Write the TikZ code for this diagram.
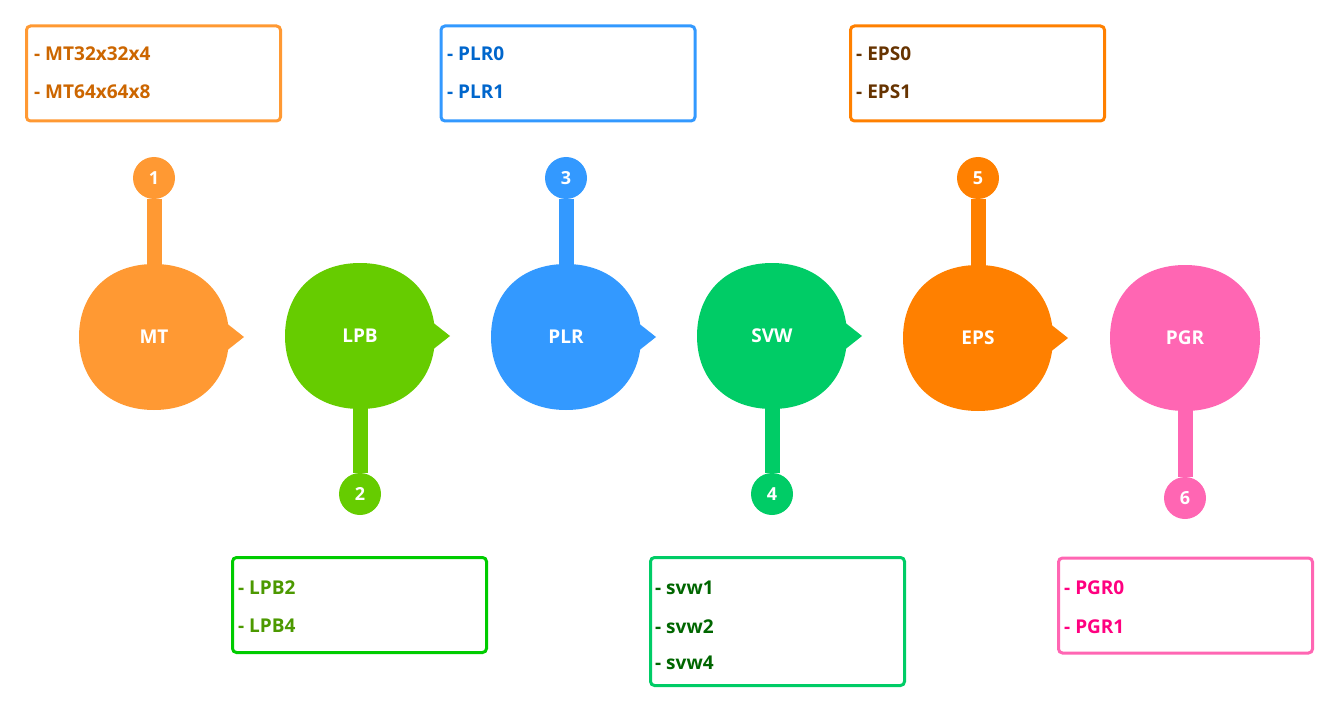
\documentclass[tikz,border=0pt]{standalone}
\usepackage{fontspec}
\setmainfont{Open Sans}
\definecolor{mtcol}{HTML}{FF9933}
\definecolor{mttext}{HTML}{CC6600}
\definecolor{lpbcol}{HTML}{66CC00}
\definecolor{lpbline}{HTML}{00CC00}
\definecolor{lpbtext}{HTML}{4C9900}
\definecolor{plrcol}{HTML}{3399FF}
\definecolor{plrtext}{HTML}{0066CC}
\definecolor{svwcol}{HTML}{00CC66}
\definecolor{svwtext}{HTML}{006600}
\definecolor{epscol}{HTML}{FF8000}
\definecolor{epstext}{HTML}{663300}
\definecolor{pgrcol}{HTML}{FF66B3}
\definecolor{pgrtext}{HTML}{FF0080}
\tikzset{
	blob/.pic={
		\path[pic actions] (75,0) .. controls (75,44) and (45,73) .. (0,73) .. controls (-45,73) and (-75,44) .. (-75,0) .. controls (-75,-44) and (-45,-73) .. (0,-73) .. controls (45,-73) and (75,-44) .. (75,0) -- cycle;
	},
	blobtip/.pic={
		\path[pic actions] (66,-19) -- (90,0) -- (66,19) -- cycle;
	},
	label/.style={text=white, font=\bfseries\fontsize{19}{21}\selectfont, inner sep=1pt},
	num/.style={circle, minimum size=42, inner sep=0pt, text=white, font=\bfseries\fontsize{18}{20}\selectfont},
	stem/.style={line width=15},
	listbox/.style={line width=3, rounded corners=4, fill=white, minimum width=254, inner sep=0pt},
	item/.style={anchor=base west, inner sep=0pt, font=\bfseries\fontsize{19}{21}\selectfont}
}

\begin{document}
\begin{tikzpicture}[x=1pt, y=-1pt]
		\useasboundingbox (0,0) rectangle (1340,711);
		\pic[fill=mtcol] at (154,337) {blob};
		\pic[fill=mtcol] at (154,337) {blobtip};
		\pic[fill=lpbcol] at (360,336) {blob};
		\pic[fill=lpbcol] at (360,336) {blobtip};
		\pic[fill=plrcol] at (566,337) {blob};
		\pic[fill=plrcol] at (566,337) {blobtip};
		\pic[fill=svwcol] at (772,336) {blob};
		\pic[fill=svwcol] at (772,336) {blobtip};
		\pic[fill=epscol] at (978,338) {blob};
		\pic[fill=epscol] at (978,338) {blobtip};
		\pic[fill=pgrcol] at (1185,338) {blob};
		\node[label] (mt) at (154,337) {MT};
		\node[label] (lpb) at (360,336) {LPB};
		\node[label] (plr) at (566,337) {PLR};
		\node[label] (svw) at (772,336) {SVW};
		\node[label] (eps) at (978,338) {EPS};
		\node[label] (pgr) at (1185,338) {PGR};
		\node[num, fill=mtcol] (n1) at (154,178) {1};
		\node[num, fill=lpbcol] (n2) at (360,494) {2};
		\node[num, fill=plrcol] (n3) at (566,178) {3};
		\node[num, fill=svwcol] (n4) at (772,494) {4};
		\node[num, fill=epscol] (n5) at (978,178) {5};
		\node[num, fill=pgrcol] (n6) at (1185,498) {6};
		\draw[stem, draw=mtcol] (mt) -- (n1);
		\draw[stem, draw=lpbcol] (lpb) -- (n2);
		\draw[stem, draw=plrcol] (plr) -- (n3);
		\draw[stem, draw=svwcol] (svw) -- (n4);
		\draw[stem, draw=epscol] (eps) -- (n5);
		\draw[stem, draw=pgrcol] (pgr) -- (n6);
		\node[listbox, draw=mtcol, minimum height=95] (mtlist) at (153.5,73.5) {};
		\node[listbox, draw=plrcol, minimum height=95] (plrlist) at (568,73.5) {};
		\node[listbox, draw=epscol, minimum height=95] (epslist) at (977.5,73.5) {};
		\node[listbox, draw=lpbline, minimum height=95] (lpblist) at (359.5,605) {};
		\node[listbox, draw=svwcol, minimum height=128] (svwlist) at (777.5,621.5) {};
		\node[listbox, draw=pgrcol, minimum height=95] (pgrlist) at (1185.5,605.5) {};
		\node[item, text=mttext] (mt1) at (34,61) {- MT32x32x4};
		\node[item, text=mttext] (mt2) at (34,99) {- MT64x64x8};
		\node[item, text=plrtext] (plr1) at (447,61) {- PLR0};
		\node[item, text=plrtext] (plr2) at (447,99) {- PLR1};
		\node[item, text=epstext] (eps1) at (856,61) {- EPS0};
		\node[item, text=epstext] (eps2) at (856,99) {- EPS1};
		\node[item, text=lpbtext] (lpb1) at (238,594) {- LPB2};
		\node[item, text=lpbtext] (lpb2) at (238,632) {- LPB4};
		\node[item, text=svwtext] (svw1) at (655,594) {- svw1};
		\node[item, text=svwtext] (svw2) at (655,633) {- svw2};
		\node[item, text=svwtext] (svw3) at (655,669) {- svw4};
		\node[item, text=pgrtext] (pgr1) at (1064,594) {- PGR0};
		\node[item, text=pgrtext] (pgr2) at (1064,633) {- PGR1};
	\end{tikzpicture}
\end{document}
